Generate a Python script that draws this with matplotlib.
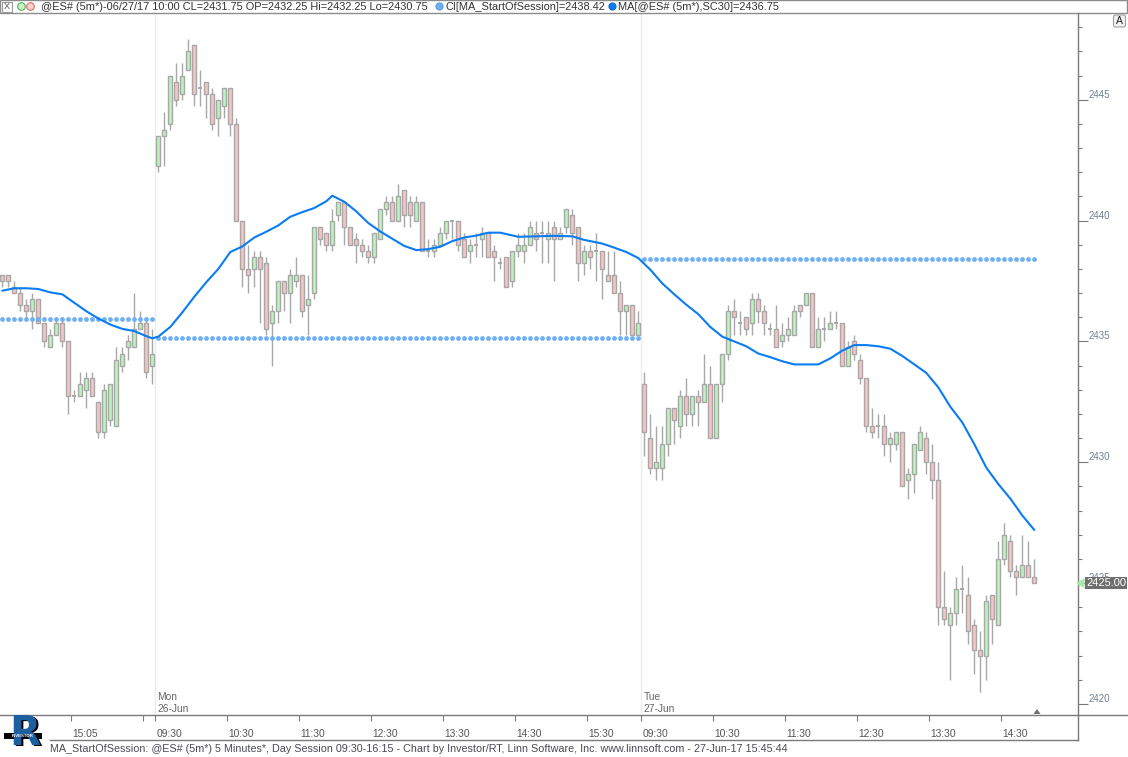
import matplotlib
matplotlib.use('Agg')
import matplotlib.pyplot as plt
from matplotlib.patches import Rectangle, Polygon, FancyBboxPatch, Circle
from matplotlib.transforms import blended_transform_factory

plt.rcParams['font.family'] = ['Liberation Sans', 'DejaVu Sans']

# ---------------- data (5-minute bars: Fri tail, Mon 26-Jun, Tue 27-Jun) ----------------
opens = [
    2437.75, 2437.75, 2437.25, 2437.0, 2436.5, 2436.25, 2436.75, 2435.75, 2434.75, 2435.25,
    2435.75, 2435.0, 2432.75, 2432.75, 2433.0, 2433.5, 2432.5, 2431.25, 2431.75, 2431.5,
    2434.0, 2434.75, 2434.75, 2435.5, 2435.75, 2434.0,
    2442.25, 2443.5, 2444.0, 2445.75, 2445.25, 2446.25, 2447.25, 2445.5, 2445.75, 2445.25,
    2444.25, 2444.75, 2445.5, 2444.0, 2440.0, 2438.0, 2438.0, 2438.5, 2438.25, 2435.75,
    2436.25, 2437.5, 2437.0, 2437.5, 2437.75, 2436.5, 2437.0, 2439.75, 2439.5, 2439.0,
    2440.25, 2440.75, 2439.75, 2439.25, 2439.0, 2438.75, 2438.5, 2439.25, 2440.5, 2440.75,
    2440.0, 2441.25, 2440.75, 2440.0, 2440.75, 2438.75, 2438.75, 2439.0, 2439.5, 2440.0,
    2440.0, 2439.25, 2438.75, 2439.0, 2439.25, 2439.5, 2438.75, 2438.25, 2438.5, 2437.5,
    2438.75, 2438.75, 2439.0, 2439.5, 2439.5, 2439.25, 2439.75, 2439.25, 2439.75, 2440.25,
    2439.75, 2438.25, 2438.75, 2438.75, 2438.75, 2437.75, 2437.75, 2437.0, 2436.25, 2436.5,
    2435.25,
    2433.25, 2431.0, 2429.75, 2429.75, 2430.75, 2432.25, 2431.5, 2432.75, 2432.0, 2432.75,
    2432.5, 2433.25, 2431.0, 2433.25, 2434.5, 2436.25, 2435.75, 2436.0, 2435.75, 2436.75,
    2436.25, 2435.5, 2435.5, 2435.0, 2435.25, 2435.25, 2436.5, 2436.5, 2437.0, 2434.75,
    2435.5, 2435.5, 2435.75, 2435.75, 2434.0, 2435.0, 2434.25, 2433.5, 2431.5, 2431.5,
    2431.5, 2430.75, 2430.75, 2431.25, 2429.25, 2429.5, 2430.5, 2431.0, 2430.0, 2429.25,
    2424.0, 2423.25, 2423.75, 2424.75, 2424.5, 2423.25, 2422.25, 2422.0, 2424.5, 2423.25,
    2426.0, 2426.75, 2425.5, 2425.25, 2425.75, 2425.25,
]
highs = [
    2437.75, 2437.75, 2437.5, 2437.25, 2436.75, 2437.0, 2436.75, 2435.75, 2435.5, 2436.0,
    2436.0, 2435.0, 2433.0, 2433.75, 2433.75, 2433.75, 2432.5, 2433.25, 2433.25, 2434.75,
    2434.75, 2435.25, 2437.0, 2436.25, 2436.0, 2435.5,
    2443.5, 2444.5, 2446.0, 2446.5, 2446.5, 2447.5, 2447.25, 2446.25, 2445.75, 2445.5,
    2445.0, 2445.5, 2445.5, 2444.25, 2440.0, 2439.0, 2438.75, 2438.75, 2438.5, 2436.5,
    2437.5, 2437.5, 2438.0, 2438.5, 2437.75, 2437.75, 2439.75, 2439.75, 2439.5, 2440.5,
    2440.75, 2440.75, 2439.75, 2439.5, 2439.25, 2439.0, 2439.5, 2440.5, 2441.0, 2441.0,
    2441.5, 2441.25, 2441.0, 2441.0, 2440.75, 2439.25, 2439.25, 2439.75, 2440.0, 2440.0,
    2440.0, 2439.5, 2439.25, 2439.5, 2439.75, 2439.5, 2439.0, 2438.5, 2438.5, 2438.75,
    2439.5, 2439.5, 2440.0, 2440.0, 2440.0, 2440.0, 2440.0, 2439.75, 2440.5, 2440.5,
    2439.75, 2439.0, 2439.0, 2439.5, 2438.75, 2438.75, 2438.75, 2437.5, 2436.5, 2436.5,
    2436.25,
    2433.75, 2432.0, 2431.5, 2431.5, 2432.25, 2432.25, 2433.0, 2433.5, 2432.75, 2433.0,
    2434.5, 2434.0, 2433.25, 2434.5, 2436.5, 2436.75, 2436.25, 2436.0, 2437.0, 2437.0,
    2436.5, 2435.75, 2436.5, 2435.75, 2436.0, 2436.5, 2436.5, 2437.0, 2437.0, 2436.0,
    2436.0, 2436.25, 2436.25, 2435.75, 2435.0, 2435.25, 2434.5, 2433.5, 2432.25, 2432.0,
    2432.0, 2431.25, 2431.25, 2431.25, 2429.75, 2430.75, 2431.5, 2431.25, 2430.75, 2430.0,
    2425.5, 2424.0, 2425.25, 2425.75, 2425.25, 2423.5, 2423.0, 2424.5, 2424.5, 2426.75,
    2427.5, 2427.0, 2425.75, 2427.0, 2426.75, 2426.0,
]
lows = [
    2437.25, 2437.25, 2437.0, 2436.25, 2436.0, 2435.5, 2435.75, 2434.75, 2434.75, 2435.25,
    2434.75, 2432.0, 2432.5, 2432.75, 2432.25, 2432.75, 2431.0, 2431.0, 2431.5, 2431.5,
    2433.75, 2434.25, 2434.75, 2435.5, 2433.5, 2433.25,
    2442.0, 2442.25, 2443.75, 2444.75, 2445.0, 2446.25, 2444.75, 2444.75, 2444.25, 2443.75,
    2443.5, 2444.25, 2443.5, 2440.0, 2437.25, 2437.0, 2437.25, 2435.75, 2435.25, 2434.0,
    2435.75, 2436.25, 2435.75, 2437.25, 2436.0, 2435.25, 2436.75, 2439.0, 2438.75, 2438.75,
    2440.0, 2439.0, 2439.0, 2438.25, 2438.5, 2438.25, 2438.25, 2439.25, 2440.25, 2440.0,
    2440.0, 2439.75, 2439.75, 2440.0, 2438.75, 2438.5, 2438.5, 2439.0, 2439.25, 2439.25,
    2438.75, 2438.5, 2438.25, 2438.5, 2438.5, 2438.5, 2437.5, 2438.0, 2437.25, 2437.25,
    2438.5, 2438.25, 2439.0, 2438.75, 2438.25, 2438.25, 2437.5, 2439.25, 2439.5, 2439.0,
    2437.5, 2437.75, 2438.0, 2437.5, 2436.75, 2437.5, 2437.0, 2435.25, 2435.25, 2435.25,
    2435.25,
    2430.25, 2429.5, 2429.25, 2429.25, 2430.25, 2430.75, 2431.0, 2431.5, 2431.5, 2431.5,
    2432.5, 2431.0, 2431.0, 2432.5, 2434.25, 2435.25, 2435.25, 2435.25, 2435.25, 2435.75,
    2435.25, 2435.25, 2434.75, 2434.75, 2435.0, 2435.25, 2436.0, 2436.5, 2434.75, 2434.75,
    2435.0, 2435.5, 2435.5, 2434.0, 2434.0, 2434.25, 2433.25, 2431.25, 2431.0, 2431.0,
    2430.25, 2430.0, 2430.5, 2429.0, 2428.5, 2428.75, 2430.5, 2429.5, 2428.5, 2423.25,
    2423.25, 2421.0, 2423.25, 2423.75, 2422.5, 2421.25, 2420.5, 2421.0, 2422.5, 2423.25,
    2425.75, 2425.25, 2424.5, 2425.25, 2425.25, 2425.0,
]
closes = [
    2437.5, 2437.5, 2437.0, 2436.5, 2436.25, 2436.75, 2435.75, 2435.0, 2435.25, 2435.75,
    2435.0, 2432.75, 2432.75, 2433.25, 2433.5, 2432.75, 2431.25, 2433.0, 2433.25, 2434.25,
    2434.5, 2435.0, 2435.5, 2435.75, 2433.75, 2434.5,
    2443.5, 2443.75, 2446.0, 2445.0, 2446.0, 2447.0, 2445.25, 2445.5, 2445.25, 2444.0,
    2445.0, 2445.5, 2444.0, 2440.0, 2438.0, 2437.75, 2438.5, 2438.0, 2435.5, 2436.25,
    2437.5, 2437.0, 2437.75, 2437.75, 2436.25, 2436.75, 2439.75, 2439.25, 2439.0, 2440.0,
    2440.75, 2439.75, 2439.0, 2439.0, 2438.75, 2438.5, 2439.5, 2440.5, 2440.75, 2440.0,
    2441.0, 2440.25, 2440.25, 2440.75, 2438.75, 2438.75, 2439.0, 2439.5, 2440.0, 2440.0,
    2439.0, 2438.5, 2439.0, 2439.0, 2439.5, 2438.5, 2438.5, 2438.25, 2437.25, 2438.75,
    2439.0, 2439.0, 2439.75, 2439.25, 2439.5, 2439.5, 2439.25, 2439.5, 2440.5, 2439.5,
    2438.25, 2438.75, 2438.5, 2438.75, 2438.0, 2437.5, 2437.0, 2436.25, 2436.5, 2435.25,
    2435.75,
    2431.25, 2429.75, 2430.0, 2430.75, 2432.25, 2431.75, 2432.75, 2432.0, 2432.75, 2432.5,
    2433.25, 2431.0, 2433.25, 2434.5, 2436.25, 2436.0, 2435.75, 2435.5, 2436.75, 2436.25,
    2435.75, 2435.5, 2434.75, 2435.25, 2435.5, 2436.25, 2436.25, 2437.0, 2434.75, 2435.5,
    2435.5, 2435.75, 2435.75, 2434.0, 2434.75, 2434.5, 2433.5, 2431.5, 2431.25, 2431.5,
    2430.75, 2431.0, 2431.25, 2429.0, 2429.5, 2430.75, 2431.25, 2430.0, 2429.25, 2424.0,
    2423.5, 2423.75, 2424.75, 2424.75, 2423.0, 2422.25, 2422.0, 2424.25, 2423.5, 2426.0,
    2427.0, 2425.5, 2425.25, 2425.75, 2425.25, 2425.0,
]

session_lengths = [26, 81, 66]
ci_values = [2435.93, 2435.13, 2438.42]   # MA_StartOfSession per session

ma_idx = [0, 2, 4, 6, 8, 10, 12, 14, 16, 18, 20, 22, 24, 25, 26, 28, 30, 32, 34, 36,
          38, 40, 42, 44, 46, 48, 50, 52, 54, 55, 57, 59, 61, 63, 65, 67, 69, 71, 73, 75,
          77, 79, 81, 83, 86, 89, 92, 95, 97, 100, 102, 104, 106, 108, 110, 112, 114, 116, 118, 120,
          122, 124, 126, 128, 130, 132, 134, 136, 138, 140, 142, 144, 146, 148, 150, 152, 154, 156, 158, 160,
          162, 164, 166, 168, 170, 172]
ma_val = [2437.10, 2437.20, 2437.20, 2437.17, 2437.03, 2436.95, 2436.60, 2436.25, 2435.95, 2435.70,
          2435.52, 2435.43, 2435.22, 2435.13, 2435.20, 2435.60, 2436.20, 2436.85, 2437.45, 2438.00,
          2438.70, 2438.93, 2439.30, 2439.54, 2439.80, 2440.16, 2440.35, 2440.52, 2440.80, 2441.03,
          2440.78, 2440.38, 2439.90, 2439.55, 2439.25, 2438.95, 2438.78, 2438.82, 2438.92, 2439.15,
          2439.30, 2439.38, 2439.50, 2439.50, 2439.33, 2439.35, 2439.37, 2439.35, 2439.20, 2439.05,
          2438.88, 2438.70, 2438.45, 2437.97, 2437.40, 2436.95, 2436.52, 2436.13, 2435.60, 2435.20,
          2435.00, 2434.80, 2434.50, 2434.35, 2434.18, 2434.05, 2434.05, 2434.05, 2434.30, 2434.62,
          2434.85, 2434.85, 2434.80, 2434.70, 2434.40, 2434.05, 2433.70, 2433.10, 2432.30, 2431.65,
          2430.75, 2429.78, 2429.10, 2428.50, 2427.80, 2427.20]

time_tick_pos = [11.5, 23.5, 25.5, 37.5, 49.5, 61.5, 73.5, 85.5, 97.5,
                 106.5, 118.5, 130.5, 142.5, 154.5, 166.5]
time_tick_labels = ['15:05', '', '09:30', '10:30', '11:30', '12:30', '13:30', '14:30', '15:30',
                    '09:30', '10:30', '11:30', '12:30', '13:30', '14:30']
day_sep_pos = [25.5, 106.5]
day_names = ['Mon', 'Tue']
day_dates = ['26-Jun', '27-Jun']

header_main = '@ES# (5m*)-06/27/17 10:00 CL=2431.75 OP=2432.25 Hi=2432.25 Lo=2430.75'
header_ci = 'CI[MA_StartOfSession]=2438.42'
header_ma = 'MA[@ES# (5m*),SC30]=2436.75'
footer = ('MA_StartOfSession: @ES# (5m*) 5 Minutes*, Day Session 09:30-16:15 - Chart by '
          'Investor/RT, Linn Software, Inc. www.linnsoft.com - 27-Jun-17 15:45:44')
last_price_label = '2425.00'

# ---------------- styling ----------------
W, H = 1128, 757
UP_FILL = '#b9f5b9'
DN_FILL = '#f8c3c3'
EDGE = '#a8a8a8'
MA_COLOR = '#0a7cf2'
CI_COLOR = '#6fb0f3'
AXIS_GRAY = '#7a7a7a'
TEXT_GRAY = '#555555'

fig = plt.figure(figsize=(W / 100, H / 100), dpi=100)
fig.patch.set_facecolor('white')

ax_left, ax_right, ax_top, ax_bot = 0.0, 1077.5, 13.0, 715.0
ax = fig.add_axes([ax_left / W, 1 - ax_bot / H, (ax_right - ax_left) / W, (ax_bot - ax_top) / H])
ax.set_facecolor('white')

n = len(opens)
xs = list(range(n))

# x: bar i at pixel 2.3 + 6 i ; y: 24.17 px per point, 2420 at pixel 704
px_per_bar = 6.0
x0 = (ax_left - 2.3) / px_per_bar
x1 = (ax_right - 2.3) / px_per_bar
ax.set_xlim(x0, x1)
ppp = 24.17
ax.set_ylim(2420 - (ax_bot - 704) / ppp, 2420 + (704 - ax_top) / ppp)

for p in day_sep_pos:
    ax.axvline(p, color='#ececec', lw=1.0, zorder=0)

# candles
ax.vlines(xs, lows, highs, color=EDGE, lw=1.0, zorder=2)
bw = 0.7
for i in range(n):
    o, c = opens[i], closes[i]
    if c == o:
        ax.hlines(o, i - bw / 2, i + bw / 2, color=EDGE, lw=1.4, zorder=3)
    else:
        fill = UP_FILL if c > o else DN_FILL
        ax.add_patch(Rectangle((i - bw / 2, min(o, c)), bw, abs(c - o),
                               facecolor=fill, edgecolor=EDGE, lw=1.0, zorder=3))

# session-start MA dots
start = 0
for L, v in zip(session_lengths, ci_values):
    ax.scatter(list(range(start, start + L)), [v] * L, s=12, color=CI_COLOR,
               linewidths=0, zorder=4)
    start += L

# moving average
ax.plot(ma_idx, ma_val, color=MA_COLOR, lw=1.5, zorder=5, solid_capstyle='round')

# axes styling
for s in ax.spines.values():
    s.set_visible(False)
ax.yaxis.tick_right()
ax.set_yticks(list(range(2420, 2449, 5)))
ax.set_yticks(list(range(2420, 2449)), minor=True)
ax.set_yticklabels([str(v) for v in range(2420, 2449, 5)])
ax.tick_params(axis='y', which='major', length=7.2, width=0.8, color=AXIS_GRAY,
               labelsize=7, labelcolor='#6f7e95', pad=0.6)
ax.tick_params(axis='y', which='minor', length=2.6, width=0.8, color=AXIS_GRAY)
for lab in ax.get_yticklabels():
    lab.set_va('bottom')
ax.set_xticks(time_tick_pos)
ax.set_xticklabels([''] * len(time_tick_pos))
ax.tick_params(axis='x', which='both', direction='out', length=4.3, width=0.8, color=AXIS_GRAY)
xfrac = blended_transform_factory(ax.transData, ax.transAxes)
for p, lab in zip(time_tick_pos, time_tick_labels):
    if lab:
        ax.text(p + 0.2, -19 / (ax_bot - ax_top), lab, transform=xfrac, ha='left',
                va='center', fontsize=7.4, color=TEXT_GRAY, clip_on=False)
for p, dn, dd in zip(day_sep_pos, day_names, day_dates):
    ax.text(p + 0.35, (ax_bot - 697) / (ax_bot - ax_top), dn, transform=xfrac, ha='left',
            va='center', fontsize=7.4, color='#666666')
    ax.text(p + 0.35, (ax_bot - 709) / (ax_bot - ax_top), dd, transform=xfrac, ha='left',
            va='center', fontsize=7.4, color='#666666')

# ---------------- overlay (pixel coordinates) ----------------
ov = fig.add_axes([0, 0, 1, 1])
ov.set_xlim(0, W)
ov.set_ylim(H, 0)
ov.axis('off')

# frame lines
ov.plot([0, ax_right], [ax_bot, ax_bot], color=AXIS_GRAY, lw=1.0)
ov.plot([50, ax_right], [740, 740], color=AXIS_GRAY, lw=1.0)
ov.plot([ax_right, ax_right], [ax_top, 740], color=AXIS_GRAY, lw=1.0)
ov.plot([ax_right, W], [ax_bot, ax_bot], color=AXIS_GRAY, lw=1.0)

# header bar
ov.add_patch(Rectangle((0, 0), 1127, 12.5, facecolor='white', edgecolor='#8c8c8c', lw=1.0))
ov.add_patch(Rectangle((1.5, 1.5), 10, 10, facecolor='white', edgecolor='#9a9a9a', lw=0.8))
ov.text(6.5, 6.8, 'X', ha='center', va='center', fontsize=6.5, color='#555555')
ov.add_patch(Circle((21.5, 6.5), 3.8, facecolor='#c8f2c8', edgecolor='#58b058', lw=0.8))
ov.add_patch(Circle((30.5, 6.5), 3.8, facecolor='#f8d0d0', edgecolor='#d87070', lw=0.8))
ov.text(41, 7, header_main, ha='left', va='center', fontsize=7.95, color='#333333')
ov.add_patch(Circle((439.5, 6.5), 3.6, facecolor=CI_COLOR, edgecolor='#4a90d0', lw=0.6))
ov.text(445, 7, header_ci, ha='left', va='center', fontsize=7.95, color='#333333')
ov.add_patch(Circle((612.5, 6.5), 3.6, facecolor=MA_COLOR, edgecolor='#0060c0', lw=0.6))
ov.text(618, 7, header_ma, ha='left', va='center', fontsize=7.95, color='#333333')

# "A" button
ov.add_patch(FancyBboxPatch((1113.5, 15), 12, 12, boxstyle='round,pad=0,rounding_size=2',
                            facecolor='#f0f0f0', edgecolor='#a0a0a0', lw=0.8))
ov.text(1119.5, 21.5, 'A', ha='center', va='center', fontsize=7.5, color='#222222')

# last price tag
pt = blended_transform_factory(ov.transData, ax.transData)
last_close = closes[-1]
hh = 6 / ppp
ov.add_patch(Rectangle((1085, last_close - hh), 42, 2 * hh, facecolor='#6e6e6e',
                       edgecolor='none', transform=pt, zorder=5))
ov.text(1106, last_close, last_price_label, ha='center', va='center', fontsize=8,
        color='white', transform=pt, zorder=6)
ov.add_patch(Polygon([(1076, last_close), (1084.5, last_close + 5 / ppp),
                      (1084.5, last_close - 5 / ppp)], closed=True, facecolor='#a8eaa8',
                     edgecolor='none', transform=pt, zorder=6))

# cursor marker
ov.add_patch(Polygon([(1033.5, 714), (1040.5, 714), (1037, 709)], closed=True,
                     facecolor='#707070', edgecolor='none'))

# footer
ov.text(50, 749.5, footer, ha='left', va='center', fontsize=7.75, color='#4a4a55')

# logo
ov.text(26.5, 735, 'R', ha='center', va='center', fontsize=29, fontweight='bold',
        color='black', family='DejaVu Sans')
ov.text(25, 734, 'R', ha='center', va='center', fontsize=29, fontweight='bold',
        color='#1d5f9f', family='DejaVu Sans')
ov.add_patch(Rectangle((4, 733), 38, 6, facecolor='black', edgecolor='none'))
ov.text(23, 736, 'INVESTOR', ha='center', va='center', fontsize=3.2, color='white',
        fontweight='bold')

fig.savefig('out.png', dpi=100, facecolor='white')
